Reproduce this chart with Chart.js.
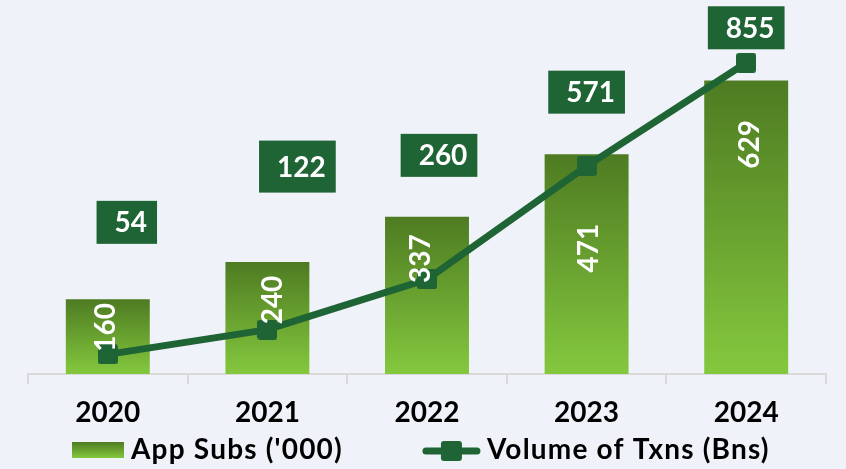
<!DOCTYPE html>
<html>
<head>
<meta charset="utf-8">
<script src="https://cdn.jsdelivr.net/npm/chart.js@4.4.1/dist/chart.umd.min.js"></script>
<style>
    html, body { margin: 0; padding: 0; background: #eff2f8; }
    #wrap { width: 846px; height: 469px; position: relative; }
</style>
</head>
<body>
<div id="wrap"><canvas id="subsChart"></canvas></div>
<script>
    // Chart data
    var years = ['2020', '2021', '2022', '2023', '2024'];
    var appSubs = [160, 240, 337, 471, 629];       // App Subs ('000)
    var txnVolume = [54, 122, 260, 571, 855];      // Volume of Txns (Bns)
    var seriesNames = ["App Subs ('000)", 'Volume of Txns (Bns)'];

    var darkGreen = '#1f6434';
    var barTop = '#4e7b22';
    var barBottom = '#84c83e';
    var font = 'Lato, "Open Sans", sans-serif';

    // Rounded square used as the line marker
    function makeMarker(size, radius) {
        var c = document.createElement('canvas');
        c.width = size; c.height = size;
        var g = c.getContext('2d');
        g.fillStyle = darkGreen;
        g.beginPath();
        g.roundRect(0, 0, size, size, radius);
        g.fill();
        return c;
    }

    function barGradient(ctx, top, bottom) {
        var g = ctx.createLinearGradient(0, top, 0, bottom);
        g.addColorStop(0, barTop);
        g.addColorStop(1, barBottom);
        return g;
    }

    // Value labels: rotated white text inside bars, dark green tags for the line
    var valueTags = {
        id: 'valueTags',
        afterDatasetsDraw: function (chart, args, opts) {
            var ctx = chart.ctx;
            ctx.save();
            ctx.font = 'bold 28px ' + font;
            ctx.fillStyle = '#ffffff';
            ctx.textAlign = 'center';
            ctx.textBaseline = 'alphabetic';

            var bars = chart.getDatasetMeta(0).data;
            bars.forEach(function (bar, i) {
                var off = opts.barOffsets[i];
                ctx.save();
                ctx.translate(bar.x + off[0], bar.y + off[1]);
                ctx.rotate(-Math.PI / 2);
                ctx.fillText(String(appSubs[i]), 0, 10);
                ctx.restore();
            });

            var points = chart.getDatasetMeta(1).data;
            points.forEach(function (pt, i) {
                var off = opts.tagOffsets[i];
                var txt = String(txnVolume[i]);
                var w = ctx.measureText(txt).width + 28;
                var h = opts.tagHeights[i];
                var cx = pt.x + off[0];
                var cy = pt.y + off[1];
                ctx.fillStyle = darkGreen;
                ctx.fillRect(cx - w / 2, cy - h / 2, w, h);
                ctx.fillStyle = '#ffffff';
                ctx.fillText(txt, cx + 4, cy + 10);
            });
            ctx.restore();
        }
    };

    // Legend row drawn under the axis labels
    var legendRow = {
        id: 'legendRow',
        afterDraw: function (chart) {
            var ctx = chart.ctx;
            var y = 450;
            ctx.save();
            ctx.font = 'bold 28px ' + font;
            ctx.letterSpacing = '1.2px';
            ctx.textBaseline = 'alphabetic';
            ctx.textAlign = 'left';
            var w1 = ctx.measureText(seriesNames[0]).width;
            var w2 = ctx.measureText(seriesNames[1]).width;
            var total = 52 + 7 + w1 + 80 + 57 + 7 + w2;
            var x = Math.round(chart.width / 2 - 2 - total / 2);

            ctx.fillStyle = barGradient(ctx, y - 8, y + 8);
            ctx.fillRect(x, y - 8, 52, 16);
            x += 59;
            ctx.fillStyle = '#000000';
            ctx.fillText(seriesNames[0], x, y + 9);
            x += w1 + 80;

            ctx.strokeStyle = darkGreen;
            ctx.lineWidth = 7;
            ctx.lineCap = 'round';
            ctx.beginPath();
            ctx.moveTo(x + 3, y + 1);
            ctx.lineTo(x + 54, y + 1);
            ctx.stroke();
            ctx.fillStyle = darkGreen;
            ctx.beginPath();
            ctx.roundRect(x + 18, y - 9, 21, 20, 3);
            ctx.fill();
            x += 64;
            ctx.fillStyle = '#000000';
            ctx.fillText(seriesNames[1], x, y + 9);
            ctx.restore();
        }
    };

    document.addEventListener('DOMContentLoaded', function () {
        var ctx = document.getElementById('subsChart').getContext('2d');

        new Chart(ctx, {
            type: 'bar',
            data: {
                labels: years,
                datasets: [{
                    type: 'bar',
                    label: seriesNames[0],
                    data: appSubs,
                    yAxisID: 'y',
                    order: 1,
                    categoryPercentage: 1,
                    barPercentage: 0.526,
                    backgroundColor: function (c) {
                        var chart = c.chart;
                        if (!chart.chartArea || c.type !== 'data') return barBottom;
                        var s = chart.scales.y;
                        return barGradient(chart.ctx, s.getPixelForValue(c.raw), s.getPixelForValue(0));
                    }
                }, {
                    type: 'line',
                    label: seriesNames[1],
                    data: txnVolume,
                    yAxisID: 'y1',
                    order: 0,
                    borderColor: darkGreen,
                    borderWidth: 7,
                    tension: 0,
                    pointStyle: makeMarker(20, 3),
                    pointRadius: 10,
                    pointHoverRadius: 10
                }]
            },
            options: {
                responsive: true,
                maintainAspectRatio: false,
                animation: false,
                layout: {
                    autoPadding: false,
                    padding: { top: 10, left: 28, right: 20, bottom: 27.4 }
                },
                plugins: {
                    legend: { display: false },
                    tooltip: { enabled: false },
                    valueTags: {
                        barOffsets: [[-3, 28], [5, 38], [-7, 42], [1, 94], [3, 64]],
                        tagOffsets: [[19, -132], [30, -163], [12, -124], [0, -74], [0, -35]],
                        tagHeights: [43, 52, 43, 43, 43]
                    }
                },
                scales: {
                    x: {
                        grid: {
                            display: true,
                            drawOnChartArea: false,
                            drawTicks: true,
                            tickLength: 10,
                            color: '#d9d9d9',
                            lineWidth: 2
                        },
                        border: { color: '#d9d9d9', width: 2 },
                        ticks: {
                            color: '#000000',
                            padding: 12,
                            font: { family: font, size: 28, weight: 'bold', lineHeight: 1.2 }
                        }
                    },
                    y: { display: false, min: 0, max: 780 },
                    y1: { display: false, min: 0, max: 1000, position: 'right' }
                }
            },
            plugins: [valueTags, legendRow]
        });
    });
</script>
</body>
</html>
